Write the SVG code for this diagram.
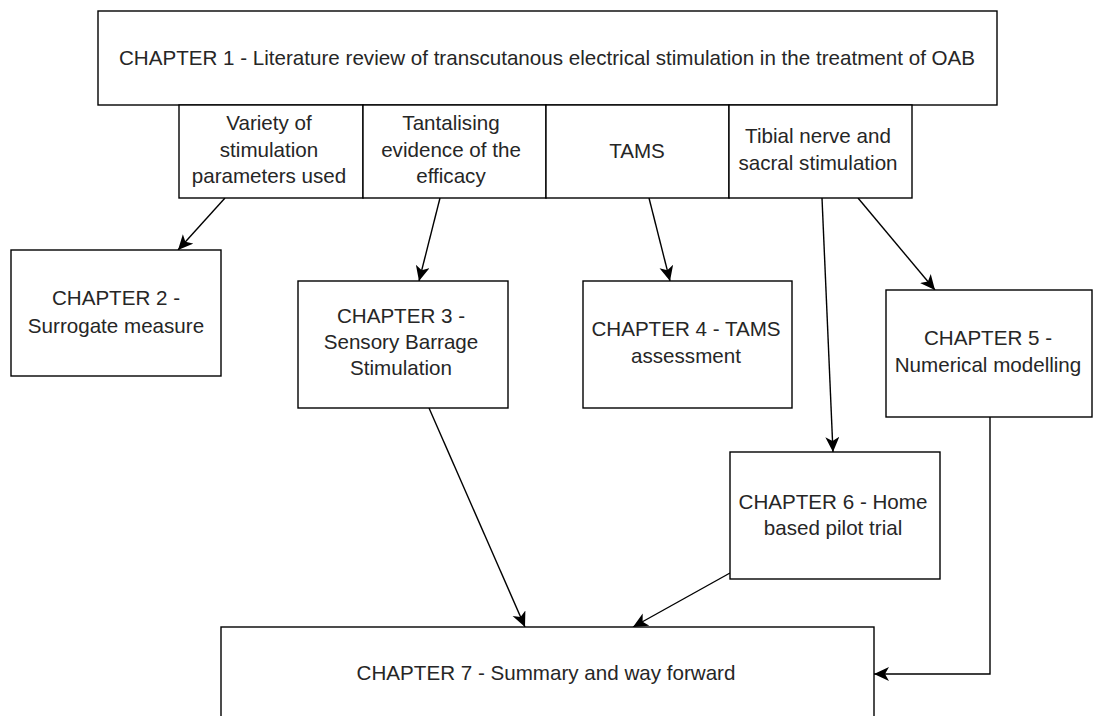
<svg xmlns="http://www.w3.org/2000/svg" width="1094" height="716" viewBox="0 0 1094 716">
<style>
.box{fill:#ffffff;stroke:#000000;stroke-width:1.4}
.t{font-family:"Liberation Sans",Arial,sans-serif;font-size:20.6px;fill:#262626;text-anchor:middle}
.c{fill:none;stroke:#000000;stroke-width:1.4}
</style>
<defs>
<marker id="arr" markerUnits="userSpaceOnUse" markerWidth="18" markerHeight="16" refX="15" refY="7" orient="auto" viewBox="0 0 18 16">
<path d="M0,0 L15,7 L0,14 L4,7 Z" fill="#000000"/>
</marker>
</defs>
<rect width="1094" height="716" fill="#ffffff"/>
<g id="connectors">
<line class="c" x1="225" y1="198" x2="178" y2="250" marker-end="url(#arr)"/>
<line class="c" x1="440" y1="198" x2="419" y2="281" marker-end="url(#arr)"/>
<line class="c" x1="649" y1="198" x2="670" y2="281" marker-end="url(#arr)"/>
<line class="c" x1="822" y1="198" x2="833" y2="452" marker-end="url(#arr)"/>
<line class="c" x1="858" y1="198" x2="935" y2="290" marker-end="url(#arr)"/>
<line class="c" x1="429" y1="408" x2="525" y2="627" marker-end="url(#arr)"/>
<line class="c" x1="730" y1="573" x2="633" y2="627" marker-end="url(#arr)"/>
<polyline class="c" points="990,417 990,674 874,674" marker-end="url(#arr)"/>
</g>
<g id="ch1">
<rect class="box" x="98" y="11" width="899" height="94"/>
<text class="t" x="547" y="65">CHAPTER 1 - Literature review of transcutanous electrical stimulation in the treatment of OAB</text>
</g>
<g id="sub1">
<rect class="box" x="179" y="105" width="184" height="93"/>
<text class="t" x="269" y="130">Variety of</text>
<text class="t" x="269" y="157">stimulation</text>
<text class="t" x="269" y="183">parameters used</text>
</g>
<g id="sub2">
<rect class="box" x="363" y="105" width="183" height="93"/>
<text class="t" x="451" y="130">Tantalising</text>
<text class="t" x="451" y="157">evidence of the</text>
<text class="t" x="451" y="183">efficacy</text>
</g>
<g id="sub3">
<rect class="box" x="546" y="105" width="183" height="93"/>
<text class="t" x="637" y="158">TAMS</text>
</g>
<g id="sub4">
<rect class="box" x="729" y="105" width="183" height="93"/>
<text class="t" x="818" y="143">Tibial nerve and</text>
<text class="t" x="818" y="170">sacral stimulation</text>
</g>
<g id="ch2">
<rect class="box" x="11" y="250" width="210" height="126"/>
<text class="t" x="116" y="305">CHAPTER 2 -</text>
<text class="t" x="116" y="333">Surrogate measure</text>
</g>
<g id="ch3">
<rect class="box" x="298" y="281" width="210" height="127"/>
<text class="t" x="401" y="323">CHAPTER 3 -</text>
<text class="t" x="401" y="349">Sensory Barrage</text>
<text class="t" x="401" y="375">Stimulation</text>
</g>
<g id="ch4">
<rect class="box" x="583" y="281" width="209" height="127"/>
<text class="t" x="686" y="336">CHAPTER 4 - TAMS</text>
<text class="t" x="686" y="363">assessment</text>
</g>
<g id="ch5">
<rect class="box" x="886" y="290" width="206" height="127"/>
<text class="t" x="988" y="345">CHAPTER 5 -</text>
<text class="t" x="988" y="372">Numerical modelling</text>
</g>
<g id="ch6">
<rect class="box" x="730" y="452" width="210" height="127"/>
<text class="t" x="833" y="509">CHAPTER 6 - Home</text>
<text class="t" x="833" y="535">based pilot trial</text>
</g>
<g id="ch7">
<rect class="box" x="221" y="627" width="653" height="110"/>
<text class="t" x="546" y="680">CHAPTER 7 - Summary and way forward</text>
</g>
</svg>
